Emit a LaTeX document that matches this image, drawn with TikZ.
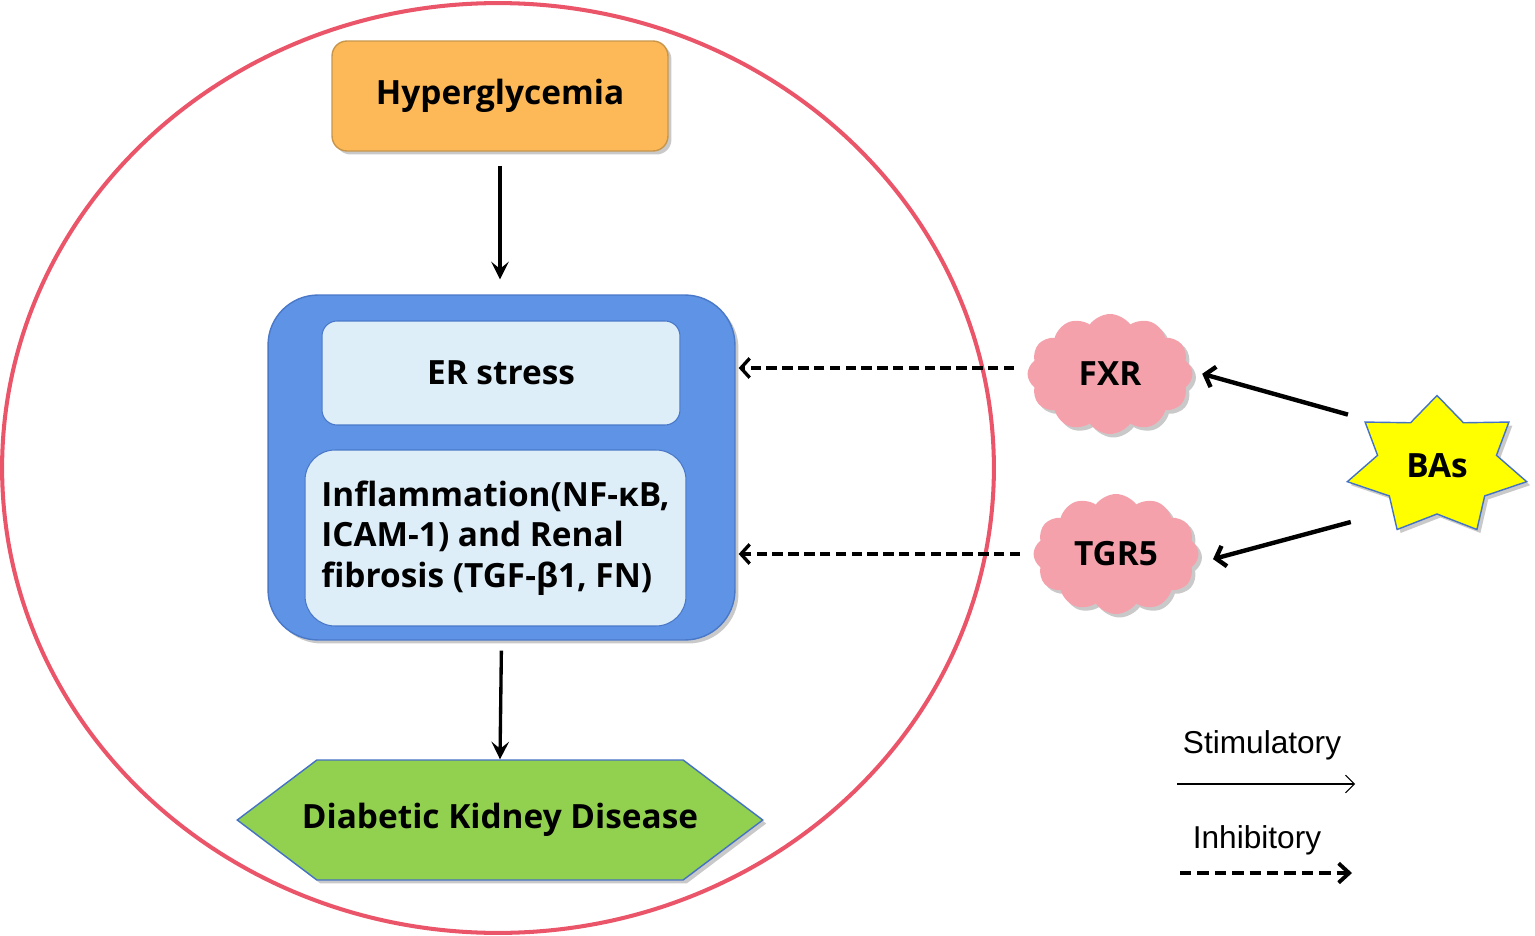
\documentclass[tikz,border=0pt]{standalone}
\usepackage{fontspec}
\setmainfont{Open Sans}
\newfontfamily\legendfont{Liberation Sans}
\usetikzlibrary{arrows.meta,shapes.symbols,shadows}

\definecolor{ringred}{HTML}{EB5569}
\definecolor{hyperfill}{HTML}{FDB957}
\definecolor{hyperline}{HTML}{C8964A}
\definecolor{cellfill}{HTML}{5E93E5}
\definecolor{cellline}{HTML}{4A78C8}
\definecolor{innerfill}{HTML}{DDEEF9}
\definecolor{dkdfill}{HTML}{92D050}
\definecolor{edgeblue}{HTML}{4472C4}
\definecolor{cloudpink}{HTML}{F4A1AC}
\definecolor{staryellow}{HTML}{FFFF00}

\tikzset{
  softshadow/.style={drop shadow={shadow xshift=0.07cm,shadow yshift=-0.07cm,opacity=0.3,fill=black!70}},
  boldtext/.style={font=\bfseries\fontsize{19}{23}\selectfont},
  hyperbox/.style={rectangle,rounded corners=0.3cm,draw=hyperline,fill=hyperfill,line width=0.8pt,
    minimum width=6.72cm,minimum height=2.2cm,boldtext,softshadow},
  cellbox/.style={rectangle,rounded corners=1cm,draw=cellline,fill=cellfill,line width=0.8pt,
    minimum width=9.34cm,minimum height=6.9cm,softshadow},
  innerbox/.style={rectangle,draw=cellline,fill=innerfill,line width=0.6pt,boldtext,align=left},
  dkdbox/.style={signal,signal to=east and west,signal pointer angle=74,draw=edgeblue,fill=dkdfill,
    line width=0.8pt,inner xsep=-0.3cm,minimum height=2.4cm,boldtext,softshadow},
  receptor/.style={cloud,cloud puffs=12,cloud puff arc=110,aspect=1.35,fill=cloudpink,
    minimum width=3.3cm,minimum height=2.4cm,inner sep=0pt,boldtext,softshadow},
  bastar/.style={draw=edgeblue,fill=staryellow,line width=0.8pt,softshadow},
  stimarrow/.style={line width=1.9pt,-{Stealth[length=10pt,width=10pt,inset=4pt]}},
  basarrow/.style={line width=2.5pt,-{Straight Barb[length=5pt,width=12pt]}},
  inhibarrow/.style={line width=1.9pt,dash pattern=on 6pt off 3pt,-{Straight Barb[length=5pt,width=11pt]}},
  legstim/.style={line width=0.6pt,-{Straight Barb[length=5pt,width=10pt]}},
  leginhib/.style={line width=2.2pt,dash pattern=on 6.5pt off 3.4pt,-{Straight Barb[length=6pt,width=11pt]}},
  legtext/.style={font=\legendfont\fontsize{18}{22}\selectfont}
}

\begin{document}
\begin{tikzpicture}[x=0.02cm,y=-0.02cm]
\useasboundingbox (0,0) rectangle (1535,936);
\draw[ringred,line width=2.3pt] (498,468) ellipse [x radius=9.92cm,y radius=9.3cm];
\node[hyperbox] (hyper) at (500,96) {Hyperglycemia};
\node[cellbox] (cell) at (501.5,467.5) {};
\node[innerbox,rounded corners=0.3cm,minimum width=7.16cm,minimum height=2.08cm] (er) at (501,373) {ER stress};
\node[innerbox,rounded corners=0.6cm,minimum width=7.62cm,minimum height=3.52cm] (infl) at (495.5,538)
  {Inflammation(NF-κB,\\ICAM-1) and Renal\\fibrosis (TGF-β1, FN)};
\node[dkdbox] (dkd) at (500,820) {Diabetic Kidney Disease};
\node[receptor] (fxr) at (1110,374) {FXR};
\node[receptor] (tgr) at (1116,554) {TGR5};
\draw[bastar] (1437,466) +(90:1.84cm and 1.41cm)
  foreach \k in {1,...,7} { -- +({90+(\k-0.5)*360/7}:1.22cm and 0.96cm) -- +({90+\k*360/7}:1.84cm and 1.41cm)} -- cycle;
\node[circle,minimum size=4.1cm,boldtext] (bas) at (1437,466) {BAs};
\draw[stimarrow,shorten <=0.28cm,shorten >=0.3cm] (hyper.south) -- (hyper.south |- cell.north);
\draw[stimarrow,shorten <=0.2cm] (cell.south) -- (dkd.north);
\draw[basarrow,shorten >=0.2cm] (bas.150) -- (fxr.2);
\draw[basarrow,shorten >=0.36cm] (bas.213) -- (tgr.-7);
\draw[inhibarrow,shorten <=0.26cm,shorten >=0.06cm] ([yshift=0.12cm]fxr.west) -- ([yshift=0.12cm]fxr.west -| cell.east);
\draw[inhibarrow,shorten <=0.26cm,shorten >=0.06cm] (tgr.west) -- (tgr.west -| cell.east);
\node[legtext] (stimtxt) at (1262,745) {Stimulatory};
\coordinate (stimA) at (1177,784);
\coordinate (stimB) at (1355,784);
\draw[legstim] (stimA) -- (stimB);
\node[legtext] (inhibtxt) at (1257,840) {Inhibitory};
\coordinate (inhibA) at (1180,873);
\coordinate (inhibB) at (1352,873);
\draw[leginhib] (inhibA) -- (inhibB);
\end{tikzpicture}
\end{document}
